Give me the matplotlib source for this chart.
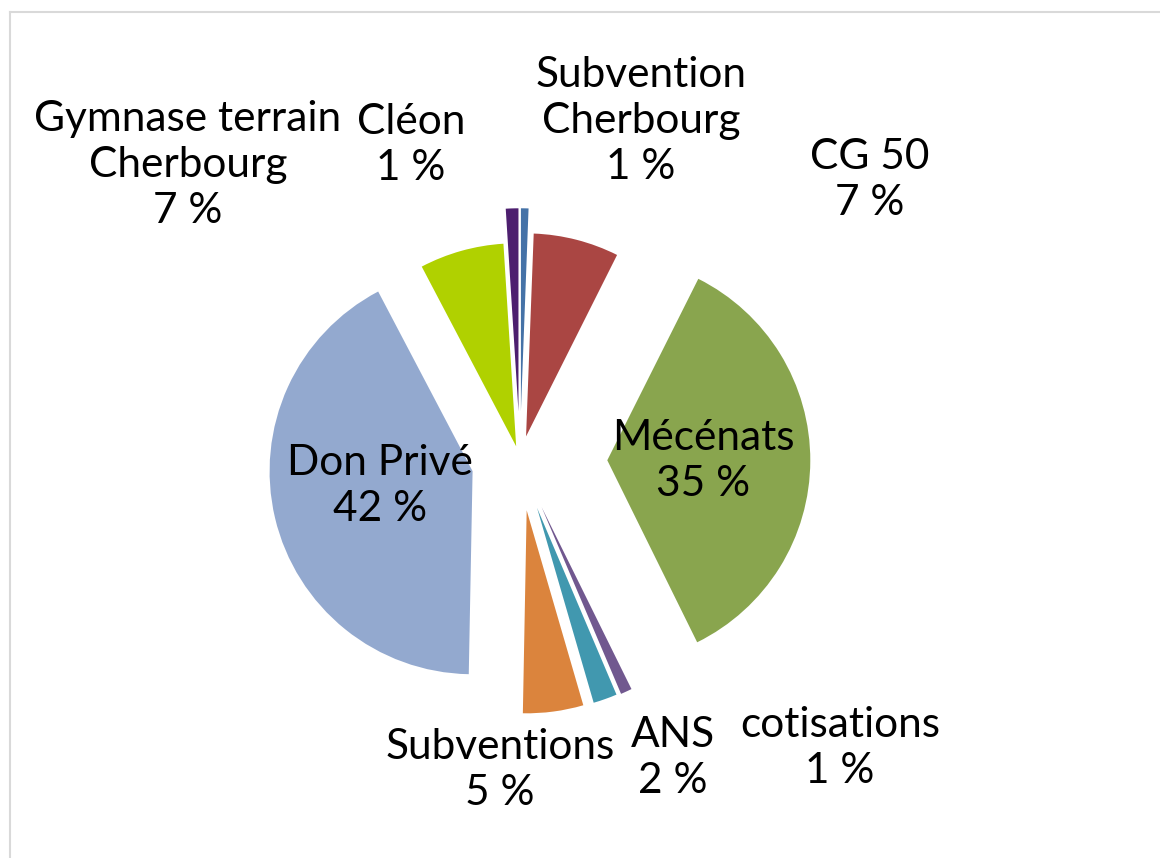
import matplotlib
matplotlib.use("Agg")
import matplotlib.pyplot as plt
from matplotlib.lines import Line2D

# ---- data (clockwise from 12 o'clock) ----
categories = ["Subvention\nCherbourg", "CG 50", "Mécénats", "cotisations", "ANS",
              "Subventions", "Don Privé", "Gymnase terrain\nCherbourg", "Cléon"]
values = [0.6, 6.8, 35.3, 0.9, 1.9, 4.8, 42.0, 6.7, 1.0]
pct_labels = ["1 %", "7 %", "35 %", "1 %", "2 %", "5 %", "42 %", "7 %", "1 %"]

# ---- styling / layout ----
colors = ["#4572A7", "#AA4643", "#89A54E", "#71588F", "#4198AF",
          "#DB843D", "#93A9CF", "#B0D100", "#4D1F6F"]
explode = [0.24, 0.12, 0.43, 0.255, 0.25, 0.25, 0.24, 0.07, 0.24]
label_pos_px = [(641, 121), (870, 180), (703, 461), (840, 748), (673, 758),
                (500, 770), (380, 486), (188, 165), (411, 145)]

W, H = 1160, 858
R_PX = 203.0
CX, CY = 520.0, 460.0

plt.rcParams['font.family'] = ['Lato', 'DejaVu Sans']
fig = plt.figure(figsize=(W / 100, H / 100), dpi=100)
ax = fig.add_axes([0, 0, 1, 1])
ax.pie(values, explode=explode, colors=colors, startangle=90, counterclock=False,
       radius=1.0, center=(0, 0), wedgeprops=dict(linewidth=0))
ax.set_xlim(-CX / R_PX, (W - CX) / R_PX)
ax.set_ylim(-(H - CY) / R_PX, CY / R_PX)
ax.set_aspect('equal')
ax.axis('off')

for cat, pct, (px, py) in zip(categories, pct_labels, label_pos_px):
    fig.text(px / W, 1 - py / H, f"{cat}\n{pct}", ha='center', va='center',
             multialignment='center', fontsize=30.5, linespacing=1.25, color='black')

# light chart-area border (top and left visible)
fig.add_artist(Line2D([10 / W, 1], [1 - 12 / H, 1 - 12 / H], color='#D9D9D9', lw=1.5,
                      transform=fig.transFigure))
fig.add_artist(Line2D([10 / W, 10 / W], [0, 1 - 12 / H], color='#D9D9D9', lw=1.5,
                      transform=fig.transFigure))

fig.savefig("out.png", dpi=100, facecolor='white')
